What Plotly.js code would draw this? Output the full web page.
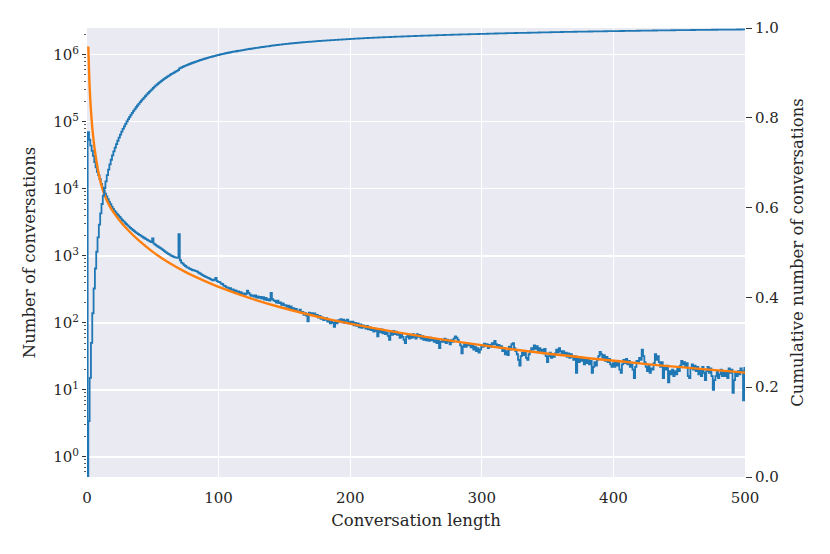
<!DOCTYPE html>
<html>
<head>
<meta charset="utf-8">
<script src="https://cdn.plot.ly/plotly-3.0.1.min.js"></script>
<style>
  html, body { margin: 0; padding: 0; background: #fff; }
  #chart { width: 830px; height: 554px; }
</style>
</head>
<body>
<div id="chart"></div>
<script>
// number of conversations for each length 1..500
const counts = [
  70000, 54000, 44000, 37000, 31000, 25000, 21000, 18000, 16000, 14000,
  11800, 10500, 9400, 8500, 7700, 7000, 6400, 5900, 5400, 5000,
  4700, 4450, 4200, 4000, 3800, 3600, 3420, 3260, 3120, 2980,
  2850, 2730, 2620, 2520, 2430, 2340, 2260, 2190, 2120, 2060,
  2000, 1940, 1880, 1830, 1780, 1730, 1690, 1650, 1610, 1820,
  1520, 1470, 1420, 1380, 1340, 1300, 1260, 1220, 1180, 1140,
  1100, 1070, 1040, 1010, 990, 970, 950, 940, 930, 2100,
  860, 795, 765, 725, 705, 675, 665, 645, 635, 615,
  610, 600, 590, 580, 560, 545, 530, 515, 500, 490,
  480, 470, 460, 450, 440, 430, 440, 470, 420, 410,
  405, 385, 380, 360, 355, 335, 338, 322, 330, 312,
  316, 298, 306, 290, 294, 278, 288, 270, 276, 262,
  272, 302, 280, 264, 252, 258, 246, 256, 238, 248,
  236, 244, 230, 242, 222, 236, 218, 226, 214, 280,
  226, 216, 212, 200, 214, 198, 202, 186, 196, 182,
  184, 174, 180, 166, 176, 162, 166, 156, 162, 150,
  150, 158, 142, 146, 132, 140, 128, 105, 142, 134,
  140, 132, 138, 126, 131, 120, 127, 115, 121, 110,
  112, 118, 104, 110, 98, 106, 100, 87, 104, 98,
  110, 104, 114, 102, 112, 100, 108, 112, 98, 104,
  96, 104, 92, 100, 90, 98, 86, 95, 84, 92,
  88, 82, 90, 80, 86, 78, 84, 74, 82, 76,
  63, 78, 72, 80, 70, 76, 68, 72, 64, 56,
  72, 66, 76, 68, 74, 66, 70, 60, 66, 62,
  56, 50, 62, 66, 58, 64, 60, 68, 62, 58,
  68, 62, 66, 58, 64, 56, 62, 55, 60, 54,
  60, 55, 58, 52, 57, 50, 54, 42, 52, 56,
  52, 58, 50, 56, 52, 48, 55, 52, 58, 63,
  60, 56, 52, 46, 35, 44, 48, 44, 50, 46,
  48, 43, 46, 40, 44, 38, 42, 36, 40, 46,
  44, 49, 45, 48, 42, 47, 44, 50, 48, 54,
  48, 44, 47, 42, 45, 38, 42, 34, 38, 33,
  44, 40, 48, 50, 42, 38, 34, 28, 23, 32,
  36, 33, 37, 30, 28, 34, 38, 42, 40, 46,
  41, 45, 38, 42, 36, 40, 35, 41, 32, 26,
  32, 36, 30, 34, 31, 35, 40, 36, 42, 38,
  34, 38, 33, 36, 31, 35, 30, 34, 31, 28,
  32, 18, 30, 26, 31, 27, 30, 24, 28, 25,
  28, 24, 27, 18, 22, 26, 23, 28, 32, 37,
  34, 30, 33, 27, 31, 26, 29, 24, 22, 25,
  22, 26, 23, 25, 20, 18, 24, 28, 25, 29,
  24, 27, 22, 24, 20, 15, 22, 27, 25, 30,
  28, 40, 32, 26, 22, 19, 23, 18, 21, 20,
  25, 34, 28, 32, 26, 22, 26, 15, 22, 20,
  23, 13, 19, 17, 20, 16, 19, 17, 21, 19,
  23, 27, 24, 26, 22, 25, 16, 15, 21, 24,
  20, 23, 19, 22, 17, 20, 16, 22, 18, 14,
  19, 22, 18, 21, 16, 10, 14, 16, 19, 15,
  17, 20, 16, 19, 16, 18, 15, 21, 18, 20,
  9, 14, 18, 16, 19, 17, 21, 19, 7, 22
];
// conversations longer than 500 (cumulative stays just under 1 at the right edge)
const countBeyond500 = 1800;

// fitted curve, read at a few lengths
const fitLengths = [1, 2, 3, 4, 5, 6, 8, 10, 13, 17, 21, 26, 33, 40, 50, 62, 75, 85, 100, 125, 147, 185, 250, 335, 420, 500];
const fitValues = [1330000, 333000, 148000, 83000, 53000, 37000, 20800, 13300, 8400, 5620, 4230, 3150, 2230, 1655, 1145, 794, 572, 460, 344, 230, 171, 112, 65, 37.7, 24.9, 18.1];

const xTicks = [0, 100, 200, 300, 400, 500];
const leftTickVals = [1, 10, 100, 1000, 10000, 100000, 1000000];
const leftTickText = ['10<sup>0</sup>', '10<sup>1</sup>', '10<sup>2</sup>', '10<sup>3</sup>', '10<sup>4</sup>', '10<sup>5</sup>', '10<sup>6</sup>'];
const rightTickVals = [0, 0.2, 0.4, 0.6, 0.8, 1.0];
const rightTickText = ['0.0', '0.2', '0.4', '0.6', '0.8', '1.0'];

const lengths = counts.map((c, i) => i + 1);

// step outline, bins centred on each length, starting from the floor
const histX = [0.5].concat(lengths.map(l => l - 0.5));
const histY = [1e-3].concat(counts);

const total = counts.reduce((a, b) => a + b, 0) + countBeyond500;
let running = 0;
const cumY = [0].concat(counts.map(c => (running += c) / total));
const cumX = [0].concat(lengths);

// log minor ticks 2..9 in every decade
const minorVals = [];
for (let e = -1; e <= 6; e++) {
  for (let m = 2; m <= 9; m++) minorVals.push(m * Math.pow(10, e));
}

const blue = '#1f77b4';
const orange = '#ff7f0e';
const textColor = '#262626';
const font = 'DejaVu Serif, serif';

const traces = [
  {
    x: histX, y: histY, type: 'scatter', mode: 'lines',
    line: {color: blue, width: 1.8, shape: 'hv'},
    hoverinfo: 'skip', showlegend: false
  },
  {
    x: cumX, y: cumY, type: 'scatter', mode: 'lines', yaxis: 'y2',
    line: {color: blue, width: 1.8, shape: 'hv'},
    hoverinfo: 'skip', showlegend: false
  },
  {
    x: fitLengths, y: fitValues, type: 'scatter', mode: 'lines',
    line: {color: orange, width: 2.4, shape: 'spline', smoothing: 1},
    hoverinfo: 'skip', showlegend: false
  }
];

const layout = {
  width: 830, height: 554,
  margin: {l: 87, r: 85, t: 28, b: 77},
  paper_bgcolor: '#ffffff',
  plot_bgcolor: '#eaeaf2',
  font: {family: font, size: 15, color: textColor},
  xaxis: {
    range: [0, 500],
    tickvals: xTicks, ticktext: xTicks.map(String),
    showgrid: true, gridcolor: '#ffffff', gridwidth: 1.3,
    zeroline: false, showline: false, ticks: '',
    ticklabelstandoff: 10,
    tickfont: {family: font, size: 15, color: textColor},
    title: {text: 'Conversation length', font: {family: font, size: 16.5, color: textColor}, standoff: 8}
  },
  yaxis: {
    type: 'log',
    range: [-0.30, 6.40],
    tickvals: leftTickVals, ticktext: leftTickText,
    showgrid: true, gridcolor: '#ffffff', gridwidth: 1.3,
    zeroline: false, showline: false,
    ticks: 'outside', ticklen: 4, tickwidth: 1, tickcolor: '#333333',
    minor: {tickmode: 'array', tickvals: minorVals, ticks: 'outside', ticklen: 2.5, tickwidth: 0.8, tickcolor: '#333333', showgrid: false},
    tickfont: {family: font, size: 15, color: textColor},
    title: {text: 'Number of conversations', font: {family: font, size: 16.5, color: textColor}, standoff: 13}
  },
  yaxis2: {
    overlaying: 'y', side: 'right',
    range: [0, 1],
    tickvals: rightTickVals, ticktext: rightTickText,
    showgrid: false, zeroline: false, showline: false,
    ticks: 'outside', ticklen: 6, tickwidth: 1, tickcolor: '#333333',
    tickfont: {family: font, size: 15, color: textColor},
    title: {text: 'Cumulative number of conversations', font: {family: font, size: 16.5, color: textColor}, standoff: 13}
  }
};

Plotly.newPlot(document.getElementById('chart'), traces, layout, {staticPlot: true, displayModeBar: false});
</script>
</body>
</html>
